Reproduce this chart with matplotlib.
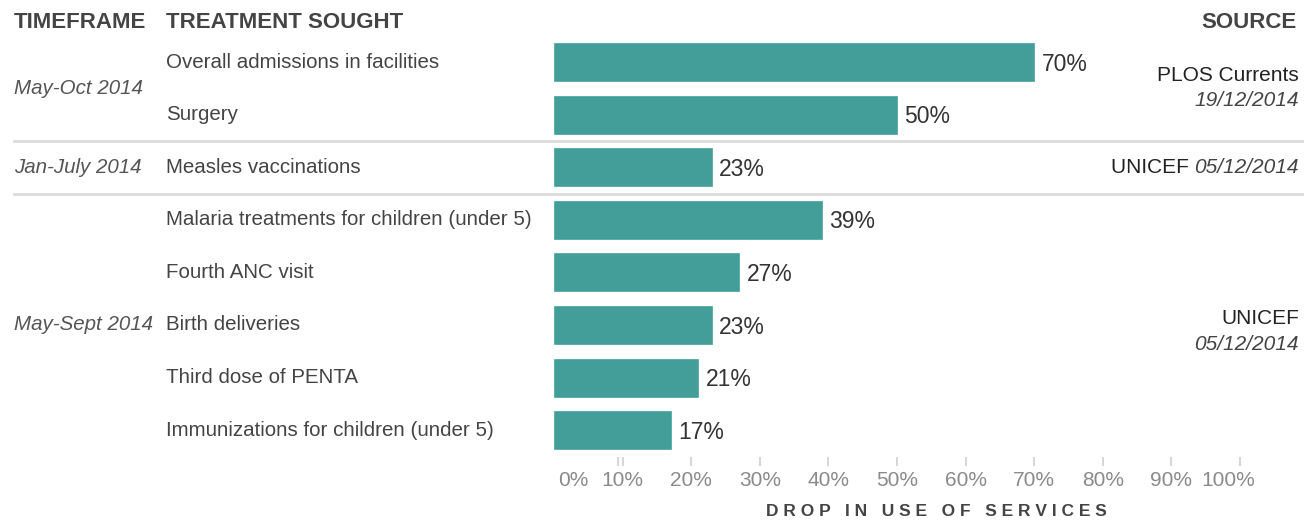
import matplotlib
matplotlib.use("Agg")
import matplotlib.pyplot as plt
import matplotlib.transforms as mtransforms
from matplotlib.lines import Line2D

plt.rcParams['font.family'] = ['Liberation Sans', 'DejaVu Sans']

# ---- data ----
treatments = [
    "Overall admissions in facilities",
    "Surgery",
    "Measles vaccinations",
    "Malaria treatments for children (under 5)",
    "Fourth ANC visit",
    "Birth deliveries",
    "Third dose of PENTA",
    "Immunizations for children (under 5)",
]
drops = [70, 50, 23, 39, 27, 23, 21, 17]
timeframes = ["May-Oct 2014", "Jan-July 2014", "May-Sept 2014"]
timeframe_rows = [0.5, 2, 5]
tick_values = [0, 10, 20, 30, 40, 50, 60, 70, 80, 90, 100]
tick_labels = ["0%", "10%", "20%", "30%", "40%", "50%", "60%", "70%", "80%", "90%", "100%"]

W, H = 1304, 521
BAR = "#439e9a"
TXT = "#444444"

fig = plt.figure(figsize=(W / 100, H / 100), dpi=100)
fig.patch.set_facecolor("white")

def fx(px):
    return px / W

def fy(py):
    return 1 - py / H

ax = fig.add_axes([fx(554), fy(456.5), fx(1240) - fx(554), fy(35.7) - fy(456.5)])
rows = list(range(len(treatments)))
ax.barh(rows, drops, height=0.72, color=BAR, edgecolor="#54aaa5", linewidth=0.6)
ax.set_xlim(0, 100)
ax.set_ylim(7.5, -0.5)
ax.set_yticks([])
for s in ["top", "right", "left", "bottom"]:
    ax.spines[s].set_visible(False)
ax.spines["bottom"].set_position(("outward", 0.5))

# value labels
for r, v in zip(rows, drops):
    ax.text(v + 1.1, r + 0.04, f"{v}%", ha="left", va="center",
            fontsize=16.5, color="#333333")

# x axis ticks
ax.xaxis.remove_overlapping_locs = False
ax.set_xticks(tick_values)
ax.set_xticklabels(tick_labels)
ax.tick_params(axis="x", which="major", length=0, pad=10, labelsize=15,
               labelcolor="#8a8a8a")
ax.set_xticks([9.4] + tick_values[1:], minor=True)
ax.tick_params(axis="x", which="minor", length=6.5, width=1.1, color="#cccccc")
labs = ax.get_xticklabels()
labs[0].set_transform(labs[0].get_transform() +
                      mtransforms.ScaledTranslation(19 / 100, 0, fig.dpi_scale_trans))
labs[-1].set_transform(labs[-1].get_transform() +
                       mtransforms.ScaledTranslation(-12 / 100, 0, fig.dpi_scale_trans))

# blended transform: x in figure fraction, y in data rows
bt = mtransforms.blended_transform_factory(fig.transFigure, ax.transData)

# treatment labels
for r, t in zip(rows, treatments):
    ax.text(fx(166), r, t, transform=bt, ha="left", va="center",
            fontsize=14.8, color=TXT, clip_on=False)

# timeframe labels
for r, t in zip(timeframe_rows, timeframes):
    ax.text(fx(14), r, t, transform=bt, ha="left", va="center",
            fontsize=14.8, color="#555555", style="italic", clip_on=False)

# separators
for yy in [1.5, 2.5]:
    ax.add_line(Line2D([fx(14), 1.0], [yy, yy], transform=bt, color="#dcdcdc",
                       linewidth=2, clip_on=False))

# sources
xr = fx(1299)
ax.text(xr, 0.25, "PLOS Currents", transform=bt, ha="right", va="center",
        fontsize=15, color="#222222", clip_on=False)
ax.text(xr, 0.74, "19/12/2014", transform=bt, ha="right", va="center",
        fontsize=15, color="#444444", style="italic", clip_on=False)
d = ax.text(xr, 2, "05/12/2014", transform=bt, ha="right", va="center",
            fontsize=15, color="#444444", style="italic", clip_on=False)
ax.annotate("UNICEF ", xy=(0, 0.5), xycoords=d, ha="right", va="center",
            fontsize=15, color="#222222", annotation_clip=False)
ax.text(xr, 4.88, "UNICEF", transform=bt, ha="right", va="center",
        fontsize=15, color="#222222", clip_on=False)
ax.text(xr, 5.37, "05/12/2014", transform=bt, ha="right", va="center",
        fontsize=15, color="#444444", style="italic", clip_on=False)

# headers
fig.text(fx(14), fy(22), "TIMEFRAME", ha="left", va="center", fontsize=16,
         fontweight="bold", color=TXT)
fig.text(fx(166), fy(22), "TREATMENT SOUGHT", ha="left", va="center", fontsize=16,
         fontweight="bold", color=TXT)
fig.text(fx(1297), fy(22), "SOURCE", ha="right", va="center", fontsize=16,
         fontweight="bold", color=TXT)

# axis title (letter-spaced)
title = "   ".join(" ".join(w) for w in "DROP IN USE OF SERVICES".split())
fig.text(fx(936), fy(512), title, ha="center", va="center", fontsize=12.5,
         fontweight="bold", color=TXT)

fig.savefig("out.png", dpi=100, facecolor="white")
